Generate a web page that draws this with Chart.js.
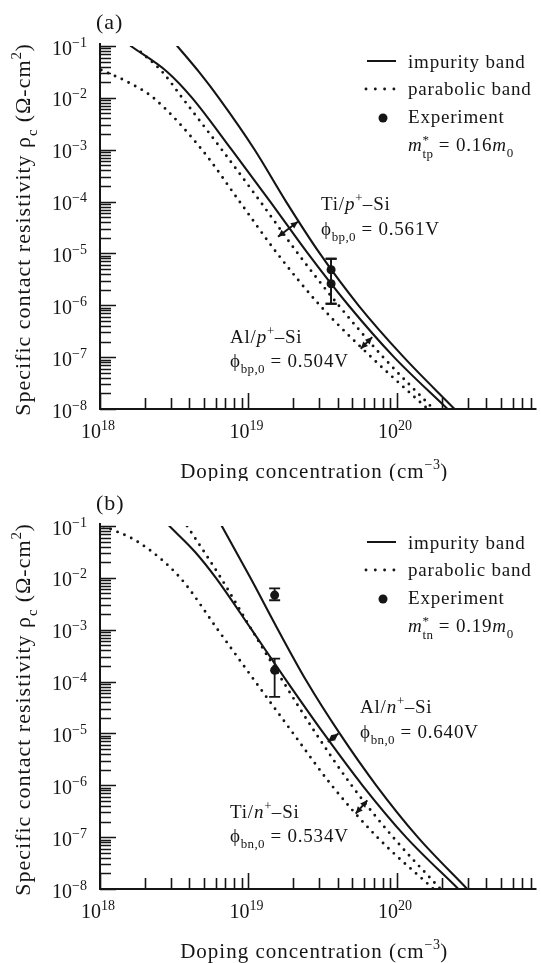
<!DOCTYPE html>
<html>
<head>
<meta charset="utf-8">
<script src="https://cdn.jsdelivr.net/npm/chart.js@4.4.1/dist/chart.umd.min.js"></script>
<style>
  html, body { margin: 0; padding: 0; background: #fff; }
  #wrap { position: relative; width: 541px; height: 963px; overflow: hidden; }
  canvas { position: absolute; left: 0; }
  #panelA { top: 0; }
  #panelB { top: 481px; }
</style>
</head>
<body>
<div id="wrap">
  <canvas id="panelA" width="541" height="481"></canvas>
  <canvas id="panelB" width="541" height="482"></canvas>
</div>
<script>
// values (doping in cm^-3, rho_c in ohm-cm^2)
const xTickExps = [18, 19, 20];
const yTickExps = [-1, -2, -3, -4, -5, -6, -7, -8];

// (a) p+-Si
const aTiImpX = [3.31e18, 4.64e18, 6.31e18, 1.10e19, 1.79e19, 3.02e19, 5.50e19, 1.11e20, 2.44e20];
const aTiImpY = [1e-1, 3.16e-2, 1e-2, 1e-3, 1e-4, 1e-5, 1e-6, 1e-7, 1e-8];
const aAlImpX = [1.61e18, 2.84e18, 4.17e18, 7.70e18, 1.40e19, 2.51e19, 4.71e19, 9.55e19, 2.19e20];
const aAlImpY = [1e-1, 3.16e-2, 1e-2, 1e-3, 1e-4, 1e-5, 1e-6, 1e-7, 1e-8];
const aTiParX = [1.88e18, 2.63e18, 3.58e18, 6.61e18, 1.20e19, 2.15e19, 4.04e19, 8.07e19, 1.76e20];
const aTiParY = [7.66e-2, 3.16e-2, 1e-2, 1e-3, 1e-4, 1e-5, 1e-6, 1e-7, 1e-8];
const aAlParX = [1.02e18, 1.58e18, 2.29e18, 4.86e18, 8.71e18, 1.56e19, 3.02e19, 6.71e19, 1.61e20];
const aAlParY = [3.44e-2, 1.94e-2, 1e-2, 1e-3, 1e-4, 1e-5, 1e-6, 1e-7, 1e-8];
const aExpX = [3.6e19, 3.6e19];
const aExpY = [4.85e-6, 2.6e-6];
const aExpLow = [1.07e-6, 1.07e-6];
const aExpHigh = [7.9e-6, 7.9e-6];
const aTiArrowX = [1.58e19, 2.15e19];
const aTiArrowY = [2.10e-5, 4.09e-5];
const aAlArrowX = [5.7e19, 6.81e19];
const aAlArrowY = [1.45e-7, 2.43e-7];

// (b) n+-Si
const bTiImpX = [2.93e18, 4.37e18, 6.03e18, 1.05e19, 1.82e19, 3.21e19, 5.85e19, 1.15e20, 2.59e20];
const bTiImpY = [1e-1, 3.16e-2, 1e-2, 1e-3, 1e-4, 1e-5, 1e-6, 1e-7, 1e-8];
const bAlImpX = [6.61e18, 1.03e19, 1.58e19, 2.47e19, 4.11e19, 7.24e19, 1.38e20, 2.97e20];
const bAlImpY = [1e-1, 1e-2, 1e-3, 1e-4, 1e-5, 1e-6, 1e-7, 1e-8];
const bAlParX = [3.86e18, 6.51e18, 1.05e19, 1.71e19, 2.84e19, 4.94e19, 9.40e19, 1.96e20];
const bAlParY = [1e-1, 1e-2, 1e-3, 1e-4, 1e-5, 1e-6, 1e-7, 1e-8];
const bTiParX = [1.06e18, 1.85e18, 3.47e18, 6.21e18, 1.11e19, 2.0e19, 3.63e19, 7.36e19, 1.76e20];
const bTiParY = [1e-1, 4.7e-2, 1e-2, 1e-3, 1e-4, 1e-5, 1e-6, 1e-7, 1e-8];
const bExpX = [1.5e19, 1.5e19];
const bExpY = [4.65e-3, 1.65e-4];
const bExpLow = [3.7e-3, 5.05e-5];
const bExpHigh = [6.25e-3, 2.78e-4];
const bAlArrowX = [3.42e19, 4.03e19];
const bAlArrowY = [6.85e-6, 9.95e-6];
const bTiArrowX = [5.27e19, 6.31e19];
const bTiArrowY = [2.84e-7, 5.13e-7];

const INK = '#151515';
const SERIF = '"Liberation Serif", "DejaVu Serif", serif';

function setFont(ctx, size, italic) {
  ctx.font = (italic ? 'italic ' : '') + size + 'px ' + SERIF;
}

// draws a run of text pieces (italic / superscript / subscript), returns width
function drawRich(ctx, x, y, parts, size, spacing, measureOnly) {
  let cx = x;
  parts.forEach(p => {
    const small = p.sup || p.sub;
    const s = small ? Math.round(size * 0.68) : size;
    setFont(ctx, s, p.it);
    ctx.letterSpacing = (small ? spacing * 0.4 : spacing) + 'px';
    let dy = p.sup ? -size * 0.42 : p.sub ? size * 0.32 : 0;
    if (p.dy !== undefined) dy = p.dy;
    if (!measureOnly) ctx.fillText(p.t, cx, y + dy);
    if (!p.keep) cx += ctx.measureText(p.t).width;
  });
  return cx - x;
}

function curve(xs, ys, dotted) {
  return {
    data: xs.map((x, i) => ({ x: x, y: ys[i] })),
    showLine: true,
    pointRadius: 0,
    borderColor: INK,
    borderWidth: dotted ? 2.9 : 2.1,
    borderDash: dotted ? [0, 7.5] : [],
    borderCapStyle: 'round',
    cubicInterpolationMode: 'monotone',
    fill: false
  };
}

function arrowHead(ctx, xt, yt, xf, yf) {
  const a = Math.atan2(yt - yf, xt - xf), L = 7, W = 3.3;
  ctx.beginPath();
  ctx.moveTo(xt, yt);
  ctx.lineTo(xt - L * Math.cos(a) + W * Math.sin(a), yt - L * Math.sin(a) - W * Math.cos(a));
  ctx.lineTo(xt - L * Math.cos(a) - W * Math.sin(a), yt - L * Math.sin(a) + W * Math.cos(a));
  ctx.closePath();
  ctx.fill();
}

function makeDecor(p) {
  return {
    id: 'decor',
    afterDatasetsDraw(chart) {
      const { ctx, scales: { x, y } } = chart;
      ctx.save();
      ctx.strokeStyle = INK;
      ctx.fillStyle = INK;
      ctx.lineWidth = 1.8;
      // error bars
      p.expX.forEach((v, i) => {
        const px = x.getPixelForValue(v);
        const hi = y.getPixelForValue(p.expHigh[i]);
        const lo = y.getPixelForValue(p.expLow[i]);
        ctx.beginPath();
        ctx.moveTo(px, hi); ctx.lineTo(px, lo);
        ctx.moveTo(px - 5.5, hi); ctx.lineTo(px + 5.5, hi);
        ctx.moveTo(px - 5.5, lo); ctx.lineTo(px + 5.5, lo);
        ctx.stroke();
      });
      // double arrows between paired curves
      ctx.lineWidth = 2;
      p.arrows.forEach(ar => {
        const x1 = x.getPixelForValue(ar.x[0]), y1 = y.getPixelForValue(ar.y[0]);
        const x2 = x.getPixelForValue(ar.x[1]), y2 = y.getPixelForValue(ar.y[1]);
        ctx.beginPath(); ctx.moveTo(x1, y1); ctx.lineTo(x2, y2); ctx.stroke();
        arrowHead(ctx, x1, y1, x2, y2);
        arrowHead(ctx, x2, y2, x1, y1);
      });
      ctx.restore();
    },
    afterDraw(chart) {
      const { ctx, chartArea: ca, scales: { x, y } } = chart;
      ctx.save();
      ctx.strokeStyle = INK;
      ctx.fillStyle = INK;
      ctx.textBaseline = 'alphabetic';

      // axis lines
      ctx.lineWidth = 2;
      ctx.beginPath();
      ctx.moveTo(ca.left, ca.top - 3);
      ctx.lineTo(ca.left, ca.bottom);
      ctx.lineTo(ca.right, ca.bottom);
      ctx.stroke();

      // inward ticks
      ctx.lineWidth = 1.6;
      ctx.beginPath();
      for (let e = -8; e <= -1; e++) {
        for (let m = 1; m <= 9; m++) {
          const v = m * Math.pow(10, e);
          if (v > y.max * 1.001) break;
          const py = Math.round(y.getPixelForValue(v)) + 0.5;
          ctx.moveTo(ca.left, py);
          ctx.lineTo(ca.left + (m === 1 ? 16 : 11), py);
        }
      }
      for (let e = 18; e <= 20; e++) {
        for (let m = 1; m <= 9; m++) {
          const v = m * Math.pow(10, e);
          if (v > x.max) break;
          const px = Math.round(x.getPixelForValue(v)) + 0.5;
          ctx.moveTo(px, ca.bottom);
          ctx.lineTo(px, ca.bottom - (m === 1 ? 16 : 11));
        }
      }
      ctx.stroke();

      // tick labels
      yTickExps.forEach(e => {
        const py = y.getPixelForValue(Math.pow(10, e));
        const parts = [{ t: '10' }, { t: '\u2212' + Math.abs(e), sup: true, dy: -8 }];
        const w = drawRich(ctx, 0, 0, parts, 20, 0, true);
        drawRich(ctx, ca.left - 13 - w, py + 8.5, parts, 20, 0);
      });
      xTickExps.forEach(e => {
        const px = x.getPixelForValue(Math.pow(10, e));
        const parts = [{ t: '10' }, { t: String(e), sup: true, dy: -8 }];
        const w = drawRich(ctx, 0, 0, parts, 20, 0, true);
        drawRich(ctx, px - 2 - w / 2, ca.bottom + 29, parts, 20, 0);
      });

      // axis titles
      const xt = [{ t: 'Doping concentration (cm' }, { t: '\u22123', sup: true }, { t: ')' }];
      const xw = drawRich(ctx, 0, 0, xt, 21, 1, true);
      drawRich(ctx, (ca.left + ca.right) / 2 - 4 - xw / 2, ca.bottom + 69, xt, 21, 1);

      const yt = [{ t: 'Specific contact resistivity \u03c1' }, { t: 'c', sub: true },
                  { t: ' (\u03a9-cm' }, { t: '2', sup: true }, { t: ')' }];
      const yw = drawRich(ctx, 0, 0, yt, 22, 1, true);
      ctx.save();
      ctx.translate(30, (ca.top + ca.bottom) / 2 + 2);
      ctx.rotate(-Math.PI / 2);
      drawRich(ctx, -yw / 2, 0, yt, 22, 1);
      ctx.restore();

      // panel letter
      drawRich(ctx, 96, 29, [{ t: p.label }], 22, 1);

      // legend
      ctx.lineWidth = 2;
      ctx.beginPath(); ctx.moveTo(367, 61); ctx.lineTo(396, 61); ctx.stroke();
      ctx.save();
      ctx.lineWidth = 2.9; ctx.lineCap = 'round'; ctx.setLineDash([0, 9.3]);
      ctx.beginPath(); ctx.moveTo(366, 89); ctx.lineTo(396, 89); ctx.stroke();
      ctx.restore();
      ctx.beginPath(); ctx.arc(383, 118, 4.5, 0, Math.PI * 2); ctx.fill();
      drawRich(ctx, 408, 68, [{ t: 'impurity band' }], 19, 0.8);
      drawRich(ctx, 408, 95, [{ t: 'parabolic band' }], 19, 0.8);
      drawRich(ctx, 408, 123, [{ t: 'Experiment' }], 19, 0.8);
      drawRich(ctx, 408, 151, [{ t: 'm', it: true }, { t: '*', sup: true, keep: true, dy: -7 },
        { t: p.massSub, sub: true, dy: 7 }, { t: ' = ' + p.mass }, { t: 'm', it: true }, { t: '0', sub: true, dy: 6 }], 19, 0.8);

      // curve labels
      p.notes.forEach(n => drawRich(ctx, n.x, n.y, n.parts, 19, 0.8));
      ctx.restore();
    }
  };
}

function metal(name, carrier) {
  return [{ t: name + '/' }, { t: carrier, it: true }, { t: '+', sup: true }, { t: '\u2013Si' }];
}
function barrier(sub, val) {
  return [{ t: '\u03d5' }, { t: sub, sub: true, dy: 6 }, { t: ' = ' + val }];
}

const panels = [
  {
    id: 'panelA', top: 46, bottom: 72, label: '(a)', massSub: 'tp', mass: '0.16',
    curves: [[aTiImpX, aTiImpY, false], [aAlImpX, aAlImpY, false], [aTiParX, aTiParY, true], [aAlParX, aAlParY, true]],
    expX: aExpX, expY: aExpY, expLow: aExpLow, expHigh: aExpHigh,
    arrows: [{ x: aTiArrowX, y: aTiArrowY }, { x: aAlArrowX, y: aAlArrowY }],
    notes: [
      { x: 321, y: 210, parts: metal('Ti', 'p') },
      { x: 321, y: 235, parts: barrier('bp,0', '0.561V') },
      { x: 230, y: 343, parts: metal('Al', 'p') },
      { x: 230, y: 367, parts: barrier('bp,0', '0.504V') }
    ]
  },
  {
    id: 'panelB', top: 45, bottom: 74, label: '(b)', massSub: 'tn', mass: '0.19',
    curves: [[bTiImpX, bTiImpY, false], [bAlImpX, bAlImpY, false], [bAlParX, bAlParY, true], [bTiParX, bTiParY, true]],
    expX: bExpX, expY: bExpY, expLow: bExpLow, expHigh: bExpHigh,
    arrows: [{ x: bAlArrowX, y: bAlArrowY }, { x: bTiArrowX, y: bTiArrowY }],
    notes: [
      { x: 360, y: 232, parts: metal('Al', 'n') },
      { x: 360, y: 257, parts: barrier('bn,0', '0.640V') },
      { x: 230, y: 337, parts: metal('Ti', 'n') },
      { x: 230, y: 361, parts: barrier('bn,0', '0.534V') }
    ]
  }
];

panels.forEach(p => {
  const datasets = p.curves.map(c => curve(c[0], c[1], c[2]));
  datasets.push({
    data: p.expX.map((x, i) => ({ x: x, y: p.expY[i] })),
    showLine: false,
    pointRadius: 4.5,
    pointBackgroundColor: INK,
    pointBorderWidth: 0
  });
  new Chart(document.getElementById(p.id), {
    type: 'scatter',
    data: { datasets: datasets },
    options: {
      responsive: false,
      animation: false,
      events: [],
      layout: { padding: { left: 100, right: 0, top: p.top, bottom: p.bottom } },
      scales: {
        x: { type: 'logarithmic', display: false, min: 1e18, max: 8.7e20 },
        y: { type: 'logarithmic', display: false, min: 1e-8, max: 1e-1 }
      },
      plugins: { legend: { display: false }, tooltip: { enabled: false } }
    },
    plugins: [makeDecor(p)]
  });
});
</script>
</body>
</html>
